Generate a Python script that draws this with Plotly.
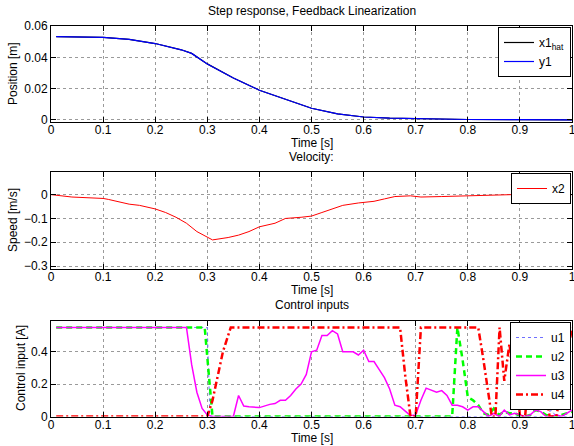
import plotly.graph_objects as go

# ---------------- data ----------------
t_pos = [0.01, 0.05, 0.10, 0.15, 0.20, 0.25, 0.27, 0.30, 0.35, 0.40, 0.45, 0.50,
         0.55, 0.60, 0.65, 0.70, 0.75, 0.80, 0.90, 1.00]
x1_hat = [0.0532, 0.0531, 0.0528, 0.0515, 0.0488, 0.0448, 0.0425, 0.0358, 0.0268,
          0.0190, 0.0132, 0.0075, 0.0039, 0.0019, 0.0012, 0.0008, 0.0005, 0.0003,
          0.0002, 0.0001]
y1 = [0.0532, 0.0531, 0.0528, 0.0515, 0.0488, 0.0448, 0.0425, 0.0357, 0.0268,
      0.0190, 0.0132, 0.0075, 0.0039, 0.0019, 0.0012, 0.0008, 0.0005, 0.0003,
      0.0002, 0.0001]

t_vel = [0.00, 0.04, 0.10, 0.11, 0.15, 0.17, 0.20, 0.22, 0.24, 0.26, 0.28, 0.30,
         0.31, 0.34, 0.36, 0.38, 0.40, 0.43, 0.45, 0.48, 0.50, 0.52, 0.54, 0.56,
         0.59, 0.62, 0.64, 0.66, 0.69, 0.71, 0.75, 0.80, 0.85, 0.90, 0.95, 1.00]
x2 = [0.000, -0.010, -0.016, -0.020, -0.040, -0.045, -0.060, -0.075, -0.095,
      -0.120, -0.155, -0.180, -0.190, -0.180, -0.170, -0.155, -0.135, -0.120,
      -0.100, -0.095, -0.090, -0.075, -0.060, -0.045, -0.035, -0.028, -0.018,
      -0.008, -0.005, -0.010, -0.008, -0.004, 0.000, 0.001, -0.001, 0.000]

t_u1 = [0.01, 0.300, 0.305, 0.95, 0.96, 0.97, 1.00]
u1 = [0.55, 0.55, 0.00, 0.00, 0.04, 0.00, 0.00]

t_u2 = [0.01, 0.295, 0.31, 0.77, 0.78, 0.79, 0.80, 0.81, 0.82, 0.83, 0.84, 0.85,
        0.86, 0.87, 0.88, 0.89, 0.90, 0.91, 0.92, 0.93, 0.94, 0.95, 0.96, 0.97,
        0.98, 0.99, 1.00]
u2 = [0.55, 0.55, 0.00, 0.00, 0.55, 0.35, 0.12, 0.10, 0.07, 0.02, 0.01, 0.05,
      0.01, 0.03, 0.02, 0.02, 0.005, 0.00, 0.01, 0.04, 0.03, 0.01, 0.00, 0.00,
      0.01, 0.02, 0.03]

t_u3 = [0.01, 0.26, 0.27, 0.28, 0.29, 0.30, 0.31, 0.35, 0.36, 0.37, 0.38, 0.40,
        0.42, 0.43, 0.44, 0.45, 0.46, 0.47, 0.48, 0.49, 0.50, 0.51, 0.52, 0.53,
        0.54, 0.55, 0.56, 0.57, 0.58, 0.59, 0.60, 0.61, 0.62, 0.63, 0.64, 0.65,
        0.66, 0.67, 0.68, 0.69, 0.70, 0.71, 0.72, 0.73, 0.74, 0.75, 0.76, 0.77,
        0.78, 0.79, 0.80, 0.81, 0.82, 0.83, 0.84, 0.85, 0.86, 0.87, 0.88, 0.89,
        0.90, 0.91, 0.92, 0.93, 0.94, 0.95, 0.96, 0.97, 0.98, 0.99, 1.00]
u3 = [0.55, 0.55, 0.32, 0.15, 0.05, 0.01, 0.00, 0.00, 0.13, 0.065, 0.06, 0.055,
      0.075, 0.08, 0.10, 0.10, 0.13, 0.17, 0.20, 0.26, 0.40, 0.41, 0.50, 0.50,
      0.53, 0.51, 0.40, 0.40, 0.40, 0.38, 0.41, 0.34, 0.34, 0.29, 0.24, 0.17,
      0.07, 0.06, 0.03, 0.005, 0.01, 0.10, 0.175, 0.16, 0.15, 0.16, 0.13, 0.07,
      0.07, 0.06, 0.04, 0.06, 0.06, 0.03, 0.00, 0.02, 0.00, 0.04, 0.01, 0.02,
      0.01, 0.00, 0.01, 0.04, 0.03, 0.00, 0.00, 0.01, 0.00, 0.02, 0.04]

t_u4 = [0.01, 0.30, 0.31, 0.32, 0.33, 0.345, 0.67, 0.68, 0.69, 0.70, 0.71, 0.82,
        0.83, 0.846, 0.853, 0.861, 0.87, 0.88, 0.885, 0.89, 0.90, 0.91, 0.925,
        0.935, 0.945, 0.957, 0.97, 1.00]
u4 = [0.00, 0.00, 0.10, 0.25, 0.40, 0.55, 0.55, 0.25, 0.00, 0.00, 0.55, 0.55,
      0.35, 0.00, 0.00, 0.55, 0.22, 0.45, 0.30, 0.43, 0.00, 0.00, 0.55, 0.55,
      0.25, 0.00, 0.00, 0.55]

x_ticks = [0, 0.1, 0.2, 0.3, 0.4, 0.5, 0.6, 0.7, 0.8, 0.9, 1]

# ---------------- figure ----------------
W, H = 574, 446
FONT = "Liberation Sans, Arial, Helvetica, sans-serif"

def py(p):
    return 1 - p / H

xdom = [51 / W, 572 / W]
doms = [[py(122), py(26)], [py(268.5), py(172)], [py(416.5), py(321)]]

fig = go.Figure()
fig.add_trace(go.Scatter(x=t_pos, y=x1_hat, mode="lines", name="x1<sub>hat</sub>",
                         line=dict(color="black", width=1.2), xaxis="x", yaxis="y",
                         legend="legend"))
fig.add_trace(go.Scatter(x=t_pos, y=y1, mode="lines", name="y1",
                         line=dict(color="blue", width=1.2), xaxis="x", yaxis="y",
                         legend="legend"))
fig.add_trace(go.Scatter(x=t_vel, y=x2, mode="lines", name="x2",
                         line=dict(color="red", width=1), xaxis="x2", yaxis="y2",
                         legend="legend2"))
fig.add_trace(go.Scatter(x=t_u1, y=u1, mode="lines", name="u1",
                         line=dict(color="#6f6fff", width=1, dash="dot"), xaxis="x3", yaxis="y3",
                         legend="legend3"))
fig.add_trace(go.Scatter(x=t_u2, y=u2, mode="lines", name="u2",
                         line=dict(color="#00ff00", width=2.5, dash="6px,4px"), xaxis="x3", yaxis="y3",
                         legend="legend3"))
fig.add_trace(go.Scatter(x=t_u3, y=u3, mode="lines", name="u3",
                         line=dict(color="magenta", width=1.5), xaxis="x3", yaxis="y3",
                         legend="legend3"))
fig.add_trace(go.Scatter(x=t_u4, y=u4, mode="lines", name="u4",
                         line=dict(color="red", width=2.5, dash="7px,3px,2px,3px"), xaxis="x3", yaxis="y3",
                         legend="legend3"))

axis_common = dict(showline=True, linecolor="black", linewidth=1, mirror="allticks",
                   ticks="inside", ticklen=5, tickcolor="black", showgrid=True,
                   gridcolor="#9a9a9a", griddash="dot", gridwidth=1, zeroline=False,
                   automargin=False, ticklabeloverflow="allow",
                   tickfont=dict(family=FONT, size=12, color="black"))

layout = dict(width=W, height=H, autosize=False,
              margin=dict(l=0, r=0, t=0, b=0, pad=0, autoexpand=False),
              paper_bgcolor="white", plot_bgcolor="white", showlegend=True,
              font=dict(family=FONT, size=12, color="black"))

yranges = [[-0.0013, 0.06], [-0.31, 0.095], [0, 0.59]]
ytickvals = [[0, 0.02, 0.04, 0.06], [-0.3, -0.2, -0.1, 0], [0, 0.2, 0.4]]
for i in range(3):
    sx = "" if i == 0 else str(i + 1)
    layout["xaxis" + sx] = dict(axis_common, domain=xdom, range=[0, 1], tickvals=x_ticks,
                                anchor="y" + sx, ticklabelstandoff=-3)
    layout["yaxis" + sx] = dict(axis_common, domain=doms[i], range=yranges[i],
                                tickvals=ytickvals[i], anchor="x" + sx)

leg_common = dict(bgcolor="white", bordercolor="black", borderwidth=1,
                  font=dict(family=FONT, size=12, color="black"),
                  xanchor="right", yanchor="top", itemwidth=30, tracegroupgap=0)
layout["legend"] = dict(leg_common, x=571 / W, y=py(27))
layout["legend2"] = dict(leg_common, x=571 / W, y=py(173))
layout["legend3"] = dict(leg_common, x=571 / W, y=py(322))

fig.update_layout(**layout)

cx = (xdom[0] + xdom[1]) / 2
annots = [
    ("Step response, Feedback Linearization", cx, py(11), 0),
    ("Velocity:", cx, py(157), 0),
    ("Control inputs", cx, py(305), 0),
    ("Time [s]", cx, py(143), 0),
    ("Time [s]", cx, py(290), 0),
    ("Time [s]", cx, py(438), 0),
    ("Position [m]", 13 / W, py(74), -90),
    ("Speed [m/s]", 13 / W, py(220), -90),
    ("Control input [A]", 21 / W, py(368), -90),
]
for txt, x, y, ang in annots:
    fig.add_annotation(text=txt, x=x, y=y, xref="paper", yref="paper",
                       showarrow=False, textangle=ang, xanchor="center", yanchor="middle",
                       font=dict(family=FONT, size=12, color="black"))

fig.write_html("out.html", config={"displayModeBar": False},
               post_script="document.body.style.margin='0px';")
